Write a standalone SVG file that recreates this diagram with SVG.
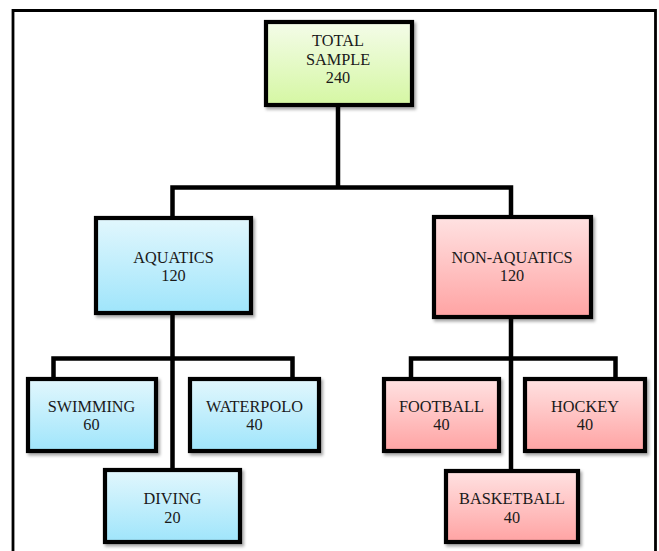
<svg xmlns="http://www.w3.org/2000/svg" width="659" height="551" viewBox="0 0 659 551">
<defs>
<linearGradient id="gGreen" x1="0" y1="0" x2="0" y2="1"><stop offset="0" stop-color="#f4fce9"/><stop offset="1" stop-color="#d5f7a3"/></linearGradient>
<linearGradient id="gBlue" x1="0" y1="0" x2="0" y2="1"><stop offset="0" stop-color="#e2f7fd"/><stop offset="1" stop-color="#9fe5fb"/></linearGradient>
<linearGradient id="gRed" x1="0" y1="0" x2="0" y2="1"><stop offset="0" stop-color="#ffe2e2"/><stop offset="1" stop-color="#ffa3a3"/></linearGradient>
<filter id="sh" x="-10%" y="-10%" width="125%" height="130%"><feDropShadow dx="2" dy="2.5" stdDeviation="1.5" flood-color="#000" flood-opacity="0.35"/></filter>
</defs>
<style>
.box{stroke:#000;stroke-width:4.2;filter:url(#sh)}
.green{fill:url(#gGreen)}
.blue{fill:url(#gBlue)}
.red{fill:url(#gRed)}
.conn{fill:none;stroke:#000;stroke-width:4.5;stroke-linejoin:miter;stroke-linecap:butt}
text{font-family:"Liberation Serif","Times New Roman",serif;font-size:16.3px;fill:#1a1a1a;text-anchor:middle}
</style>
<rect width="659" height="551" fill="#fff"/>
<path d="M13,551 V10.5 H655.5 V551" fill="none" stroke="#000" stroke-width="2.8"/>
<g id="connectors">
<path class="conn" d="M338,107 V187.5 M172.5,216 V187.5 H511 V216"/>
<path class="conn" d="M172.5,315 V469 M53.5,378 V358.5 H292.5 V378"/>
<path class="conn" d="M511,319 V470 M411,378 V358.5 H615.5 V378"/>
</g>
<g id="total">
<rect class="box green" x="266" y="22" width="146" height="83"/>
<text x="338" y="46">TOTAL</text>
<text x="338" y="64.5">SAMPLE</text>
<text x="338" y="83">240</text>
</g>
<g id="aquatics">
<rect class="box blue" x="96" y="218" width="155" height="95"/>
<text x="173.5" y="263">AQUATICS</text>
<text x="173.5" y="281">120</text>
</g>
<g id="non-aquatics">
<rect class="box red" x="434" y="217" width="157" height="100"/>
<text x="512" y="263">NON-AQUATICS</text>
<text x="512" y="281">120</text>
</g>
<g id="swimming">
<rect class="box blue" x="28" y="379" width="128" height="72"/>
<text x="91.5" y="411.5">SWIMMING</text>
<text x="91.5" y="429.5">60</text>
</g>
<g id="waterpolo">
<rect class="box blue" x="190" y="379" width="129" height="72"/>
<text x="254.5" y="411.5">WATERPOLO</text>
<text x="254.5" y="429.5">40</text>
</g>
<g id="diving">
<rect class="box blue" x="105" y="470" width="135" height="72"/>
<text x="172.5" y="503.5">DIVING</text>
<text x="172.5" y="523">20</text>
</g>
<g id="football">
<rect class="box red" x="384" y="379" width="115" height="72"/>
<text x="441.5" y="411.5">FOOTBALL</text>
<text x="441.5" y="429.5">40</text>
</g>
<g id="hockey">
<rect class="box red" x="525" y="379" width="120" height="72"/>
<text x="585" y="411.5">HOCKEY</text>
<text x="585" y="429.5">40</text>
</g>
<g id="basketball">
<rect class="box red" x="446" y="471" width="132" height="71"/>
<text x="512" y="504">BASKETBALL</text>
<text x="512" y="522.5">40</text>
</g>
</svg>
